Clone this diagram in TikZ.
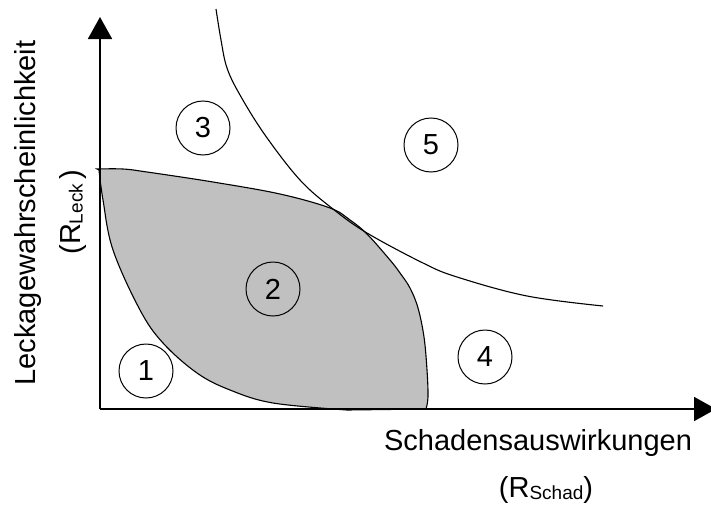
\documentclass[tikz,border=0pt]{standalone}
\usepackage{fontspec}
\setmainfont{Liberation Sans}
\usetikzlibrary{arrows.meta}
\definecolor{regiongray}{RGB}{192,192,192}
\tikzset{
  axisline/.style={line width=1.8pt, -{Triangle[length=22pt,width=24pt]}},
  curveline/.style={line width=1.1pt},
  numcircle/.style={circle, draw, line width=1pt, minimum size=54pt, inner sep=0pt, font=\fontsize{29}{34}\selectfont},
  axislabel/.style={inner sep=0pt, font=\fontsize{29}{34}\selectfont}
}
\begin{document}
\begin{tikzpicture}[x=1pt,y=-1pt]
\useasboundingbox (0,0) rectangle (711,506);
% shaded region
\filldraw[fill=regiongray, draw=black, curveline]
  plot[smooth, tension=0.6] coordinates {(97,169) (123,169) (147,172) (213,182) (280,194) (330,208) (350,220) (367,234) (390,260) (400,273) (410,288) (418,308) (424,337) (427,370) (428,397) (426,409)}
  -- (347,410)
  -- plot[smooth, tension=0.6] coordinates {(347,410) (273,403) (230,390) (197,373) (163,343) (140,310) (113,250) (103,200) (99,170)}
  -- cycle;
% hyperbola
\draw[curveline] plot[smooth, tension=0.6] coordinates {(216,9) (221,40) (227,68) (240,95) (265,135) (300,180) (333,209) (367,233) (423,263) (457,277) (527,296) (603,306)};
% axes
\coordinate (origin) at (100,409);
\coordinate (ytip) at (100,17);
\coordinate (xtip) at (716,409);
\draw[axisline] (origin) -- (ytip);
\draw[axisline] (origin) -- (xtip);
% circles
\node[numcircle] (c1) at (146,371) {1};
\node[numcircle] (c2) at (273,289) {2};
\node[numcircle] (c3) at (203,128) {3};
\node[numcircle] (c4) at (485,357) {4};
\node[numcircle] (c5) at (431,145) {5};
% labels
\node[axislabel, rotate=90] (ylab) at (28,213) {Leckagewahrscheinlichkeit};
\node[axislabel, rotate=90] (ylab2) at (73,212) {(R\raisebox{-2pt}{\fontsize{19}{19}\selectfont Leck}\,)};
\node[axislabel] (xlab) at (538,443) {Schadensauswirkungen};
\node[axislabel] (xlab2) at (546,490) {(R\raisebox{-2pt}{\fontsize{19}{19}\selectfont Schad})};
\end{tikzpicture}
\end{document}
